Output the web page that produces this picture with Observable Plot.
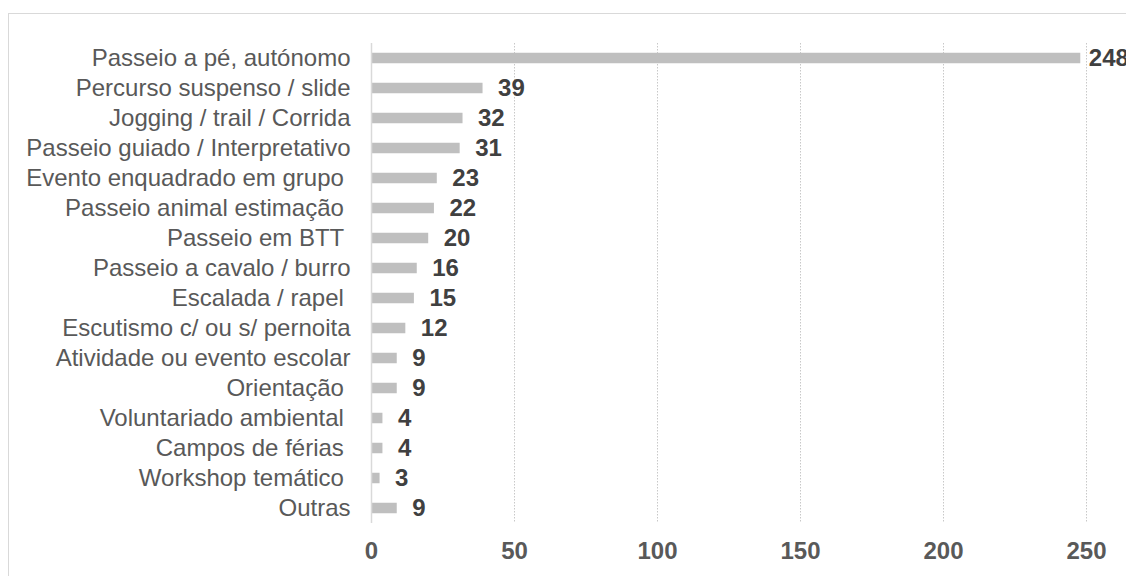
<!DOCTYPE html>
<html>
<head>
<meta charset="utf-8">
<script src="https://cdn.jsdelivr.net/npm/d3@7"></script>
<script src="https://cdn.jsdelivr.net/npm/@observablehq/plot@0.6"></script>
<style>
  html, body { margin: 0; padding: 0; background: #fff; overflow: hidden; width: 1126px; height: 576px; }
  #frame { position: absolute; left: 8px; top: 13px; width: 1200px; height: 700px; border: 1.5px solid #d9d9d9; box-sizing: border-box; }
  #chart { position: absolute; left: 0; top: 0; }
  #chart svg text { white-space: pre; }
</style>
</head>
<body>
<div id="frame"></div>
<div id="chart"></div>
<script>
const categories = [
  "Passeio a pé, autónomo",
  "Percurso suspenso / slide",
  "Jogging / trail / Corrida",
  "Passeio guiado / Interpretativo",
  "Evento enquadrado em grupo ",
  "Passeio animal estimação ",
  "Passeio em BTT ",
  "Passeio a cavalo / burro",
  "Escalada / rapel ",
  "Escutismo c/ ou s/ pernoita",
  "Atividade ou evento escolar",
  "Orientação ",
  "Voluntariado ambiental ",
  "Campos de férias ",
  "Workshop temático ",
  "Outras"
];
const values = [248, 39, 32, 31, 23, 22, 20, 16, 15, 12, 9, 9, 4, 4, 3, 9];
const xTicks = [0, 50, 100, 150, 200, 250];

const data = categories.map((c, i) => ({category: c, value: values[i]}));

const chart = Plot.plot({
  width: 1126,
  height: 576,
  marginLeft: 371,
  marginRight: 40,
  marginTop: 43,
  marginBottom: 53,
  style: {fontFamily: "'Liberation Sans', Arial, sans-serif", fontSize: "24px", background: "transparent", overflow: "visible"},
  x: {domain: [0, 250], label: null},
  y: {domain: categories, padding: 0, label: null},
  marks: [
    Plot.gridX({ticks: xTicks.slice(1), stroke: "#c8c8c8", strokeOpacity: 1, strokeDasharray: "1.5,1.5", strokeWidth: 1}),
    Plot.barX(data, {x: "value", y: "category", fill: "#bfbfbf", insetTop: 9.75, insetBottom: 9.75}),
    Plot.ruleX([0], {stroke: "#d9d9d9", strokeWidth: 1.5}),
    Plot.text(data, {filter: d => d.value < 200, x: "value", y: "category", text: d => String(d.value), textAnchor: "start", dx: 15, fill: "#404040", fontWeight: "bold", fontSize: 24}),
    Plot.text(data, {filter: d => d.value >= 200, x: "value", y: "category", text: d => String(d.value), textAnchor: "start", dx: 8, fill: "#404040", fontWeight: "bold", fontSize: 24}),
    Plot.axisY({tickSize: 0, tickPadding: 21, color: "#595959", fontSize: 24, label: null}),
    Plot.axisX({ticks: xTicks, tickSize: 0, tickPadding: 18, color: "#595959", fontWeight: "bold", fontSize: 24, label: null, tickFormat: d => String(d)})
  ]
});
document.getElementById("chart").appendChild(chart);
</script>
</body>
</html>
